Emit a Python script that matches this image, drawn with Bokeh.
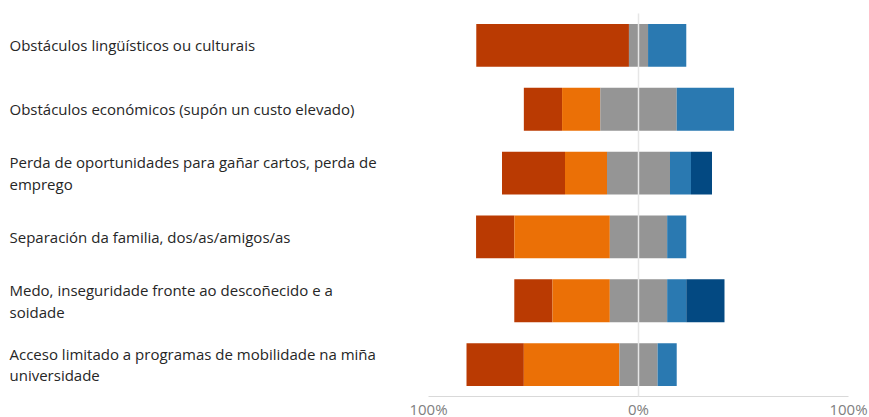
import numpy as np
from bokeh.plotting import figure
from bokeh.layouts import row
from bokeh.models import ColumnDataSource, FixedTicker, Range1d, FactorRange
from bokeh.core.properties import value
from bokeh.embed import file_html
from bokeh.resources import INLINE

categories = [
    "Obstáculos lingüísticos ou culturais",
    "Obstáculos económicos (supón un custo elevado)",
    "Perda de oportunidades para gañar cartos, perda de\nemprego",
    "Separación da familia, dos/as/amigos/as",
    "Medo, inseguridade fronte ao descoñecido e a\nsoidade",
    "Acceso limitado a programas de mobilidade na miña\nuniversidade",
]
very_low = [72.7, 18.2, 30.0, 18.2, 18.2, 27.3]
low = [0.0, 18.2, 20.0, 45.5, 27.3, 45.5]
neutral = [9.1, 36.4, 30.0, 27.3, 27.3, 18.2]
high = [18.2, 27.3, 10.0, 9.1, 9.1, 9.1]
very_high = [0.0, 0.0, 10.0, 0.0, 18.2, 0.0]
tick_values = [-100, 0, 100]
tick_labels = ["100%", "0%", "100%"]

colors = ["#BA3A02", "#EB7006", "#959595", "#959595", "#2A79B1", "#034982"]

vl = np.array(very_low); lo = np.array(low); ne = np.array(neutral)
hi = np.array(high); vh = np.array(very_high)

edges = [
    (-(vl + lo + ne / 2), -(lo + ne / 2)),
    (-(lo + ne / 2), -(ne / 2)),
    (-(ne / 2), np.zeros_like(ne)),
    (np.zeros_like(ne), ne / 2),
    (ne / 2, ne / 2 + hi),
    (ne / 2 + hi, ne / 2 + hi + vh),
]

y_range = FactorRange(*list(reversed(categories)))

# label panel
lab = figure(
    frame_width=400, frame_height=383, y_range=y_range, x_range=Range1d(0, 400),
    output_backend="svg", toolbar_location=None,
    min_border_left=0, min_border_right=0, min_border_top=13, min_border_bottom=21,
)
lab.outline_line_color = None
lab.axis.visible = False
lab.grid.grid_line_color = None
lab_src = ColumnDataSource(dict(y=categories, x=[0] * len(categories), text=categories))
lab.text(x="x", y="y", text="text", source=lab_src, x_offset=9,
         text_align="left", text_baseline="middle",
         text_font=value("Open Sans"), text_font_size="15px",
         text_color="#262626", text_line_height=1.08)

# chart panel
p = figure(
    frame_width=420, frame_height=383, y_range=y_range, x_range=Range1d(-100, 100),
    output_backend="svg", toolbar_location=None,
    min_border_left=28, min_border_right=21, min_border_top=13, min_border_bottom=0,
)
p.outline_line_color = None

for (l, r), c in zip(edges, colors):
    src = ColumnDataSource(dict(y=categories, left=l, right=r))
    p.hbar(y="y", left="left", right="right", height=0.67, source=src,
           fill_color=c, line_color=None)

p.yaxis.visible = False
p.ygrid.grid_line_color = None
p.xgrid.ticker = FixedTicker(ticks=tick_values)
p.xgrid.grid_line_color = "#E6E6E6"
p.xgrid.grid_line_width = 1.5
p.xgrid.level = "overlay"

p.xaxis.ticker = FixedTicker(ticks=tick_values)
p.xaxis.major_label_overrides = {v: t for v, t in zip(tick_values, tick_labels)}
p.xaxis.axis_line_color = "#D9D9D9"
p.xaxis.major_tick_line_color = None
p.xaxis.minor_tick_line_color = None
p.xaxis.major_tick_out = 0
p.xaxis.major_label_text_color = "#808080"
p.xaxis.major_label_text_font = "Open Sans"
p.xaxis.major_label_text_font_size = "15px"
p.xaxis.major_label_standoff = 2

layout = row(lab, p)
open("out.html", "w").write(file_html(layout, INLINE))
